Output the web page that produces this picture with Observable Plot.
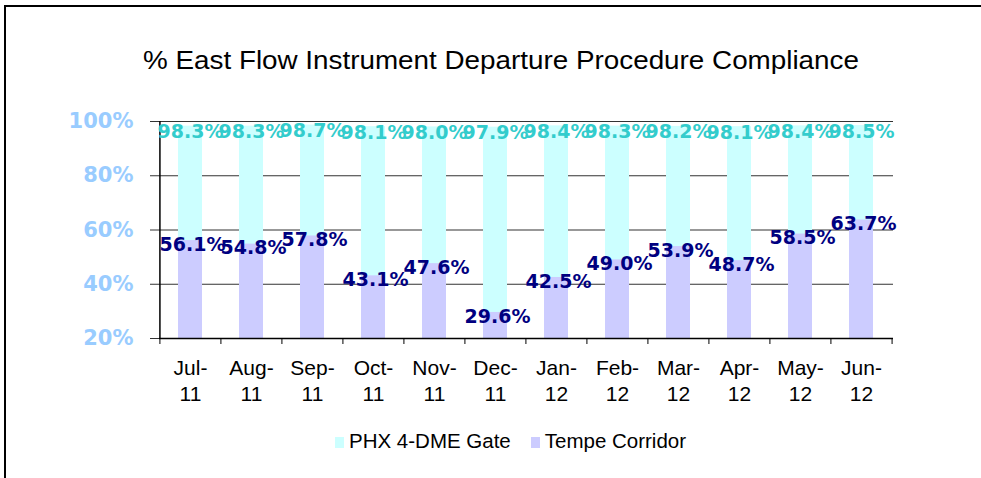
<!DOCTYPE html>
<html>
<head>
<meta charset="utf-8">
<script src="https://cdn.jsdelivr.net/npm/d3@7"></script>
<script src="https://cdn.jsdelivr.net/npm/@observablehq/plot@0.6"></script>
<style>
  html, body { margin: 0; padding: 0; background: #fff; }
  #wrap { position: relative; width: 981px; height: 478px; overflow: hidden; background: #fff; }
  #frame { position: absolute; left: 4px; top: 5px; width: 977px; height: 473px;
           border-left: 2px solid #000; border-top: 2px solid #000; box-sizing: border-box; }
  #title { position: absolute; left: 501px; top: 47px; white-space: nowrap;
           font-family: "Liberation Sans", Arial, sans-serif; font-size: 26px; line-height: 26px;
           color: #000; transform: translateX(-50%) scaleX(1.07); }
  #chart { position: absolute; left: 0; top: 0; }
  #legend { position: absolute; left: 335px; top: 430px; white-space: nowrap;
            font-family: "Liberation Sans", Arial, sans-serif; font-size: 20.5px; line-height: 21px; color: #000; }
  #legend .sw { display: inline-block; width: 9px; height: 11px; margin-right: 5px; }
  #legend .item + .item { margin-left: 20px; }
</style>
</head>
<body>
<div id="wrap">
  <div id="frame"></div>
  <div id="chart"></div>
  <div id="title">% East Flow Instrument Departure Procedure Compliance</div>
  <div id="legend"></div>
</div>
<script>
const months = ["Jul-11","Aug-11","Sep-11","Oct-11","Nov-11","Dec-11","Jan-12","Feb-12","Mar-12","Apr-12","May-12","Jun-12"];
const phxGate = [98.3, 98.3, 98.7, 98.1, 98.0, 97.9, 98.4, 98.3, 98.2, 98.1, 98.4, 98.5];
const tempeCorridor = [56.1, 54.8, 57.8, 43.1, 47.6, 29.6, 42.5, 49.0, 53.9, 48.7, 58.5, 63.7];
const yTicks = [20, 40, 60, 80, 100];
const seriesNames = ["PHX 4-DME Gate", "Tempe Corridor"];
const seriesFill = ["#ccffff", "#ccccff"];
const labelFill = ["#33cccc", "#000080"];

const data = months.map((m, i) => ({month: m, phx: phxGate[i], tempe: tempeCorridor[i]}));

const W = 981, H = 478, ML = 159, MR = 88, MT = 121, MB = 140;
const step = (W - ML - MR) / months.length;

const chart = Plot.plot({
  width: W, height: H,
  marginLeft: ML, marginRight: MR, marginTop: MT, marginBottom: MB,
  style: {fontFamily: "Liberation Sans, Arial, sans-serif", fontSize: "20.5px", color: "#000", background: "transparent"},
  x: {domain: months, paddingInner: 0.6, paddingOuter: 0.3, label: null},
  y: {domain: [20, 100], label: null},
  marks: [
    Plot.ruleY(yTicks.slice(1), {stroke: "#333", strokeWidth: 1.2}),
    Plot.barY(data, {x: "month", y1: 20, y2: "phx", fill: seriesFill[0]}),
    Plot.barY(data, {x: "month", y1: 20, y2: "tempe", fill: seriesFill[1]}),
    Plot.ruleY([20], {stroke: "#000", strokeWidth: 1.5}),
    Plot.ruleX([months[0]], {dx: -step / 2, stroke: "#000", strokeWidth: 1.5}),
    Plot.axisY(yTicks, {tickSize: 9, tickPadding: 17, tickFormat: d => d + "%",
      stroke: "#333", fill: "#99ccff", fontWeight: "bold", fontSize: 21, fontFamily: "DejaVu Sans"}),
    Plot.axisX({tickSize: 6, tickFormat: () => "", dx: -step / 2, stroke: "#000"}),
    Plot.axisX([months[months.length - 1]], {tickSize: 6, tickFormat: () => "", dx: step / 2, stroke: "#000"}),
    Plot.axisX({tickSize: 0, tickPadding: 19, tickFormat: d => d.replace("-", "-\n"),
      fontSize: 21, lineHeight: 1.2, fill: "#000"}),
    Plot.text(data, {x: "month", y: "phx", text: d => d.phx.toFixed(1) + "%", dy: 6,
      fill: labelFill[0], fontWeight: "bold", fontSize: 19, fontFamily: "DejaVu Sans"}),
    Plot.text(data, {x: "month", y: "tempe", text: d => d.tempe.toFixed(1) + "%", dy: 4, dx: 2,
      fill: labelFill[1], fontWeight: "bold", fontSize: 19, fontFamily: "DejaVu Sans"})
  ]
});
document.getElementById("chart").appendChild(chart);

const legend = document.getElementById("legend");
seriesNames.forEach((name, i) => {
  const item = document.createElement("span");
  item.className = "item";
  const sw = document.createElement("span");
  sw.className = "sw";
  sw.style.background = seriesFill[i];
  item.appendChild(sw);
  item.appendChild(document.createTextNode(name));
  legend.appendChild(item);
});
</script>
</body>
</html>
